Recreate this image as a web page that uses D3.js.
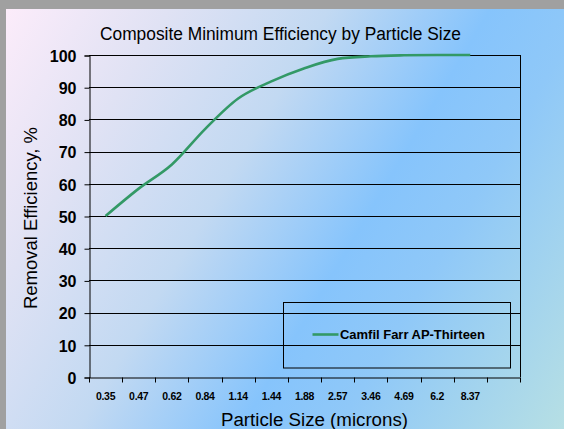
<!DOCTYPE html>
<html>
<head>
<meta charset="utf-8">
<script src="https://cdn.jsdelivr.net/npm/d3@7"></script>
<style>
  html, body { margin: 0; padding: 0; background: #a0a0a0; }
  svg { display: block; }
</style>
</head>
<body>
<svg id="chart" width="564" height="429"></svg>
<script>
// ---- data ----
const categories = ["0.35", "0.47", "0.62", "0.84", "1.14", "1.44", "1.88", "2.57", "3.46", "4.69", "6.2", "8.37"];
const efficiency = [50, 58.5, 66, 77, 86.5, 91.8, 95.9, 98.8, 99.6, 99.9, 100, 100];
const yTicks = [0, 10, 20, 30, 40, 50, 60, 70, 80, 90, 100];
const seriesName = "Camfil Farr AP-Thirteen";
const titleText = "Composite Minimum Efficiency by Particle Size";
const xTitle = "Particle Size (microns)";
const yTitle = "Removal Efficiency, %";

const svg = d3.select("#chart");
const W = 564, H = 429;
const FONT = "Liberation Sans, Arial, sans-serif";

// background
const defs = svg.append("defs");
const grad = defs.append("linearGradient").attr("id", "bg")
  .attr("gradientUnits", "userSpaceOnUse")
  .attr("x1", 6).attr("y1", 9).attr("x2", 602).attr("y2", 364);
[[0, "#fcecfa"], [0.2, "#e0e2f4"], [0.4, "#c2d9f2"], [0.6, "#86c4fc"], [0.72, "#8fc8f8"], [1, "#b6dfe4"]]
  .forEach(([o, c]) => grad.append("stop").attr("offset", o).attr("stop-color", c));

svg.append("rect").attr("width", W).attr("height", H).attr("fill", "#a0a0a0");
svg.append("rect").attr("x", 6).attr("y", 9).attr("width", W - 6).attr("height", H - 9).attr("fill", "url(#bg)");

const plot = { left: 89, right: 520, top: 55, bottom: 377 };

const x = d3.scaleBand().domain([...categories, "__blank__"]).range([plot.left, plot.right]).padding(0);
const y = d3.scaleLinear().domain([0, 100]).range([plot.bottom, plot.top]);

const g = svg.append("g");

// gridlines
g.selectAll("line.grid").data(yTicks.filter(t => t > 0)).join("line")
  .attr("class", "grid")
  .attr("x1", plot.left).attr("x2", plot.right)
  .attr("y1", d => Math.round(y(d)) + 0.5).attr("y2", d => Math.round(y(d)) + 0.5)
  .attr("stroke", "#000").attr("stroke-width", 1);

// right border
g.append("line").attr("x1", plot.right + 0.5).attr("x2", plot.right + 0.5)
  .attr("y1", plot.top).attr("y2", plot.bottom).attr("stroke", "#000");

// y axis
const yAxis = d3.axisLeft(y).tickValues(yTicks).tickSize(5).tickPadding(8);
const yg = g.append("g").attr("transform", `translate(${plot.left + 0.5},0.5)`).call(yAxis);
yg.select(".domain").attr("stroke", "#000");
yg.selectAll(".tick line").attr("stroke", "#000");
yg.selectAll(".tick text").attr("font-family", FONT)
  .attr("font-size", 16).attr("font-weight", "bold").attr("fill", "#000").attr("dy", "0.36em");

// x axis
const xAxis = d3.axisBottom(x).tickFormat(d => d === "__blank__" ? "" : d).tickSize(0).tickPadding(15);
const xg = g.append("g").attr("transform", `translate(0,${plot.bottom + 0.5})`).call(xAxis);
xg.select(".domain").attr("stroke", "#000");
xg.selectAll(".tick text").attr("font-family", FONT)
  .attr("font-size", 10.5).attr("font-weight", "bold").attr("fill", "#000").attr("letter-spacing", "-0.3");
// tick marks at category boundaries
const bounds = d3.range(x.domain().length + 1).map(i => x.range()[0] + i * x.step());
xg.selectAll("line.bt").data(bounds).join("line").attr("class", "bt")
  .attr("x1", d => Math.round(d) + 0.5).attr("x2", d => Math.round(d) + 0.5)
  .attr("y1", 0).attr("y2", 5).attr("stroke", "#000");

// line
const line = d3.line()
  .x((d, i) => x(categories[i]) + x.bandwidth() / 2)
  .y(d => y(d))
  .curve(d3.curveMonotoneX);
g.append("path").datum(efficiency).attr("d", line)
  .attr("fill", "none").attr("stroke", "#339966").attr("stroke-width", 2.6)
  .attr("stroke-linejoin", "round");

// title
svg.append("text").attr("x", 280.5).attr("y", 39.5).attr("text-anchor", "middle")
  .attr("font-family", FONT).attr("font-size", 18)
  .attr("textLength", 361).attr("lengthAdjust", "spacingAndGlyphs")
  .attr("fill", "#000").text(titleText);

// axis titles
svg.append("text").attr("x", 314.5).attr("y", 425.5).attr("text-anchor", "middle")
  .attr("font-family", FONT).attr("font-size", 18)
  .attr("textLength", 187).attr("lengthAdjust", "spacingAndGlyphs")
  .attr("fill", "#000").text(xTitle);
svg.append("text").attr("transform", "translate(37,218) rotate(-90)").attr("text-anchor", "middle")
  .attr("font-family", FONT).attr("font-size", 18)
  .attr("textLength", 182).attr("lengthAdjust", "spacingAndGlyphs")
  .attr("fill", "#000").text(yTitle);

// legend
const lg = svg.append("g");
lg.append("rect").attr("x", 283.5).attr("y", 302.5).attr("width", 227).attr("height", 65.5)
  .attr("fill", "none").attr("stroke", "#000").attr("stroke-width", 1);
lg.append("line").attr("x1", 312.5).attr("x2", 338.5).attr("y1", 334.5).attr("y2", 334.5)
  .attr("stroke", "#339966").attr("stroke-width", 2.6);
lg.append("text").attr("x", 340).attr("y", 339).attr("font-family", FONT)
  .attr("font-size", 12.5).attr("font-weight", "bold").attr("fill", "#000")
  .attr("textLength", 145).attr("lengthAdjust", "spacingAndGlyphs").text(seriesName);
</script>
</body>
</html>
